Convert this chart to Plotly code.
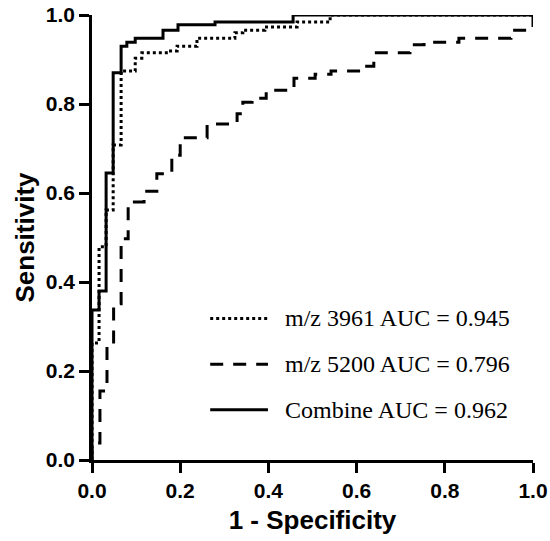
import plotly.graph_objects as go

# ROC points (1 - specificity, sensitivity)
combine_fpr = [0, 0, 0.016, 0.032, 0.048, 0.066, 0.079, 0.098, 0.161, 0.195, 0.279, 0.456, 1.0]
combine_tpr = [0, 0.337, 0.380, 0.645, 0.870, 0.930, 0.939, 0.948, 0.966, 0.978, 0.984, 1.0, 1.0]

mz3961_fpr = [0, 0, 0.016, 0.032, 0.048, 0.066, 0.098, 0.113, 0.172, 0.193, 0.238, 0.324, 0.342,
              0.392, 0.465, 0.540, 1.0]
mz3961_tpr = [0, 0.263, 0.479, 0.562, 0.708, 0.874, 0.903, 0.915, 0.919, 0.930, 0.948, 0.960, 0.966,
              0.973, 0.984, 1.0, 1.0]

mz5200_fpr = [0, 0, 0.018, 0.034, 0.049, 0.066, 0.082, 0.118, 0.147, 0.181, 0.200, 0.261, 0.329,
              0.342, 0.363, 0.395, 0.458, 0.506, 0.542, 0.612, 0.639, 0.721, 0.753, 0.832, 0.950, 1.0]
mz5200_tpr = [0, 0.038, 0.155, 0.254, 0.351, 0.497, 0.580, 0.604, 0.643, 0.685, 0.724, 0.755, 0.778,
              0.804, 0.813, 0.831, 0.858, 0.867, 0.874, 0.885, 0.915, 0.933, 0.939, 0.948, 0.966, 1.0]

legend_labels = ["m/z 3961 AUC = 0.945", "m/z 5200 AUC = 0.796", "Combine AUC = 0.962"]
tick_vals = [0, 0.2, 0.4, 0.6, 0.8, 1.0]
tick_text = ["0.0", "0.2", "0.4", "0.6", "0.8", "1.0"]

DOT = "3px,3px"
DASH = "13px,10px"
dashes = [DOT, DASH, "solid"]

fig = go.Figure()
fig.add_trace(go.Scatter(x=mz5200_fpr, y=mz5200_tpr, mode="lines", line_shape="hv",
                         line=dict(color="black", width=3, dash=DASH), cliponaxis=False,
                         showlegend=False))
fig.add_trace(go.Scatter(x=mz3961_fpr, y=mz3961_tpr, mode="lines", line_shape="hv",
                         line=dict(color="black", width=3, dash=DOT), cliponaxis=False,
                         showlegend=False))
fig.add_trace(go.Scatter(x=combine_fpr, y=combine_tpr, mode="lines", line_shape="hv",
                         line=dict(color="black", width=3), cliponaxis=False,
                         showlegend=False))

# manual legend
leg_y = [0.318, 0.215, 0.113]
for lbl, dsh, yy in zip(legend_labels, dashes, leg_y):
    fig.add_shape(type="line", xref="paper", yref="paper", x0=0.268, x1=0.399, y0=yy, y1=yy,
                  line=dict(color="black", width=3, dash=dsh))
    fig.add_annotation(xref="paper", yref="paper", x=0.433, y=yy, xanchor="left", yanchor="middle",
                       text=lbl, showarrow=False,
                       font=dict(family="Liberation Serif", size=24, color="black"))

axis_common = dict(
    range=[0, 1], showline=True, linecolor="black", linewidth=2.5,
    ticks="outside", ticklen=10, tickwidth=2.5, tickcolor="black",
    showgrid=False, zeroline=False, tickvals=tick_vals, ticktext=tick_text,
    tickfont=dict(family="Liberation Sans", size=21, color="black", weight="bold"),
    mirror=False, fixedrange=True, automargin=False, ticklabeloverflow="allow",
)

fig.update_layout(
    width=550, height=541,
    margin=dict(l=92, r=17, t=15, b=81),
    plot_bgcolor="white", paper_bgcolor="white",
    xaxis=dict(**axis_common,
               title=dict(text="1 - Specificity", standoff=10,
                          font=dict(family="Liberation Sans", size=26, color="black", weight="bold"))),
    yaxis=dict(**axis_common,
               title=dict(text="Sensitivity", standoff=4,
                          font=dict(family="Liberation Sans", size=26, color="black", weight="bold"))),
)

fig.write_html("out.html", post_script="document.body.style.margin='0';",
               config={"displayModeBar": False})
